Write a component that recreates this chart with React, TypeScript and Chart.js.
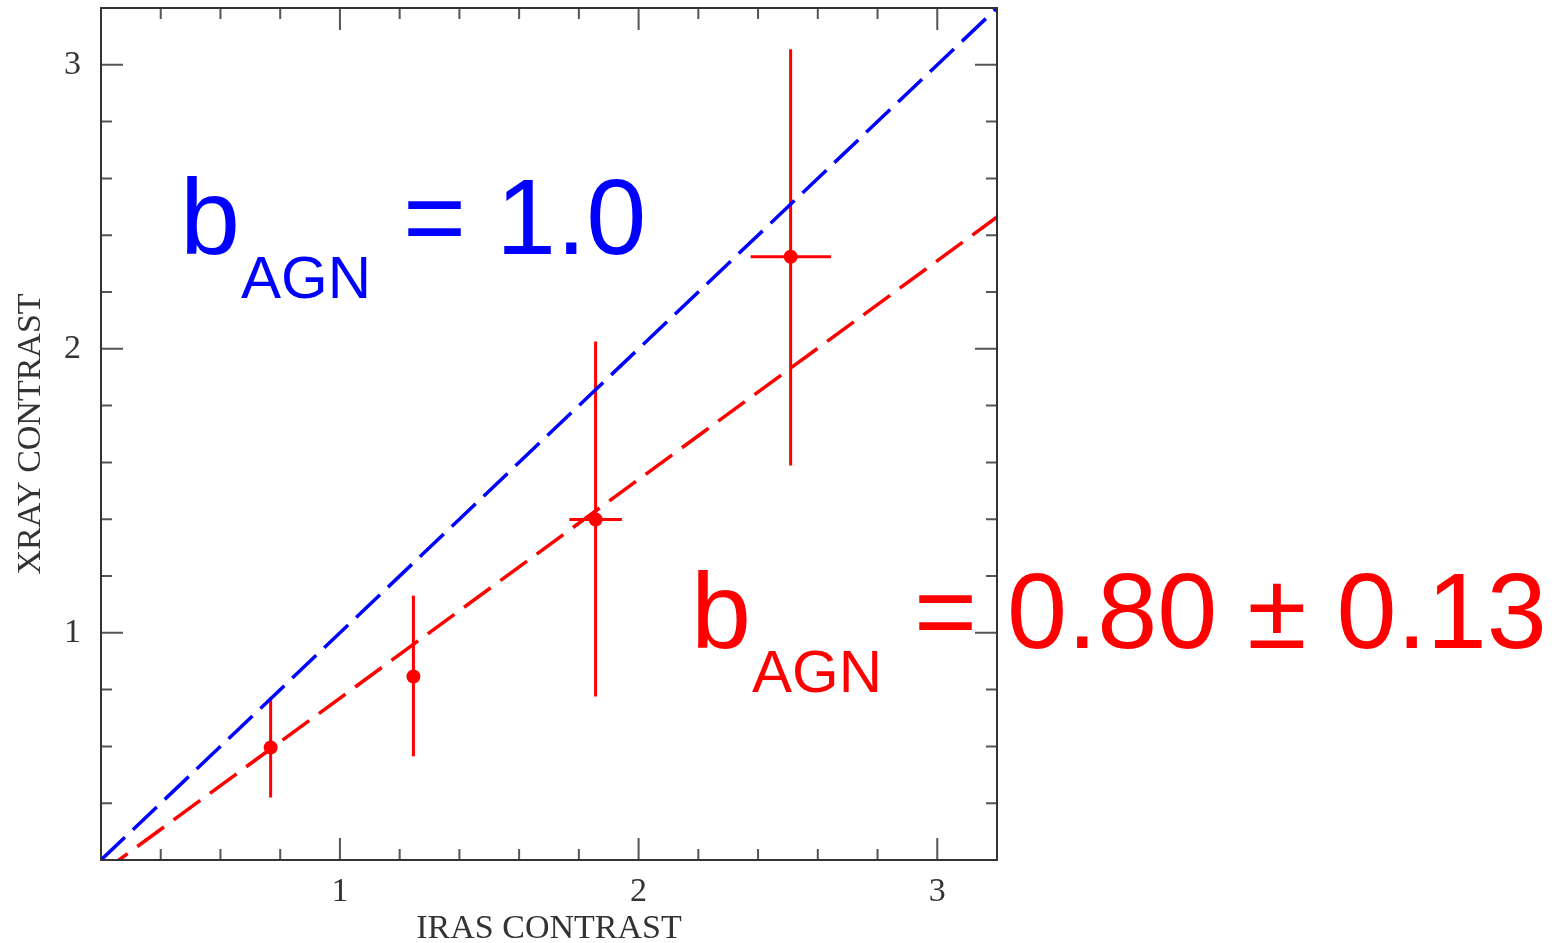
import React, { useEffect, useRef } from "react";
import { Chart, registerables } from "chart.js";

Chart.register(...registerables);

// Measured contrasts for the four bins, with their error-bar extents
const irasContrast = [0.768, 1.246, 1.856, 2.509];
const xrayContrast = [0.596, 0.846, 1.399, 2.324];
const xrayLow = [0.42, 0.565, 0.776, 1.589];
const xrayHigh = [0.772, 1.131, 2.026, 3.055];
const irasLow = [0.768, 1.246, 1.768, 2.375];
const irasHigh = [0.768, 1.246, 1.944, 2.644];

// Axis range and labelled ticks (same on both axes)
const axisMin = 0.2;
const axisMax = 3.2;
const majorTicks = [1, 2, 3];
const minorStep = 0.2;

// Reference relations: unit bias and the fitted one
const lineEnds = [0.2, 3.2];
const unitSlope = 1.0;
const fitSlope = 0.77;

const BLUE = "#0000ff";
const RED = "#ff0000";
const INK = "#333333";

const serif = "'Liberation Serif', 'Times New Roman', serif";
const sans = "'Liberation Sans', Arial, sans-serif";

const errorBarPlugin = {
  id: "errorBars",
  beforeDatasetsDraw(chart: any) {
    const { ctx, scales } = chart;
    const xs = scales.x;
    const ys = scales.y;
    ctx.save();
    ctx.strokeStyle = RED;
    ctx.lineWidth = 3;
    ctx.lineCap = "butt";
    for (let i = 0; i < irasContrast.length; i++) {
      const px = xs.getPixelForValue(irasContrast[i]);
      const py = ys.getPixelForValue(xrayContrast[i]);
      ctx.beginPath();
      ctx.moveTo(px, ys.getPixelForValue(xrayLow[i]));
      ctx.lineTo(px, ys.getPixelForValue(xrayHigh[i]));
      ctx.stroke();
      if (irasHigh[i] > irasLow[i]) {
        ctx.beginPath();
        ctx.moveTo(xs.getPixelForValue(irasLow[i]), py);
        ctx.lineTo(xs.getPixelForValue(irasHigh[i]), py);
        ctx.stroke();
      }
    }
    ctx.restore();
  },
};

const framePlugin = {
  id: "frame",
  afterDatasetsDraw(chart: any) {
    const { ctx, chartArea, scales } = chart;
    const { left, right, top, bottom } = chartArea;
    const xs = scales.x;
    const ys = scales.y;
    ctx.save();
    ctx.strokeStyle = "#555555";
    ctx.lineWidth = 2;
    const steps = Math.round((axisMax - axisMin) / minorStep);
    for (let i = 1; i < steps; i++) {
      const v = axisMin + i * minorStep;
      const major = Math.abs(v - Math.round(v)) < 1e-6;
      const len = major ? 22 : 11;
      const px = xs.getPixelForValue(v);
      const py = ys.getPixelForValue(v);
      ctx.beginPath();
      ctx.moveTo(px, bottom);
      ctx.lineTo(px, bottom - len);
      ctx.moveTo(px, top);
      ctx.lineTo(px, top + len);
      ctx.moveTo(left, py);
      ctx.lineTo(left + len, py);
      ctx.moveTo(right, py);
      ctx.lineTo(right - len, py);
      ctx.stroke();
    }
    ctx.strokeStyle = INK;
    ctx.lineWidth = 2;
    ctx.strokeRect(left, top, right - left, bottom - top);
    ctx.restore();
  },
};

const biasLabelPlugin = {
  id: "biasLabels",
  afterDraw(chart: any) {
    const { ctx } = chart;
    ctx.save();
    ctx.textBaseline = "alphabetic";
    ctx.textAlign = "left";

    const label = (color: string, x: number, y: number, value: string) => {
      ctx.fillStyle = color;
      ctx.font = `108px ${sans}`;
      ctx.fillText("b", x, y);
      ctx.fillText(value, x + 223, y);
      ctx.font = `60px ${sans}`;
      ctx.fillText("AGN", x + 61, y + 44);
    };

    label(BLUE, 180, 254, "= 1.0");
    label(RED, 691, 648, "= 0.80 \u00b1 0.13");
    ctx.restore();
  },
};

export default function App() {
  const canvasRef = useRef<HTMLCanvasElement | null>(null);

  useEffect(() => {
    const canvas = canvasRef.current;
    if (!canvas) return;

    const keepMajor = (scale: any) => {
      scale.ticks = majorTicks.map((v) => ({ value: v }));
    };

    const chart = new Chart(canvas, {
      type: "scatter",
      data: {
        datasets: [
          {
            label: "b = 1.0",
            data: lineEnds.map((x) => ({ x, y: unitSlope * x })),
            showLine: true,
            borderColor: BLUE,
            borderWidth: 3.5,
            borderDash: [33, 11],
            pointRadius: 0,
          },
          {
            label: "fit",
            data: lineEnds.map((x) => ({ x, y: fitSlope * x })),
            showLine: true,
            borderColor: RED,
            borderWidth: 3.5,
            borderDash: [33, 12],
            pointRadius: 0,
          },
          {
            label: "bins",
            data: irasContrast.map((x, i) => ({ x, y: xrayContrast[i] })),
            showLine: false,
            backgroundColor: RED,
            borderColor: RED,
            borderWidth: 0,
            pointRadius: 7,
            pointStyle: "circle",
          },
        ],
      },
      options: {
        responsive: false,
        animation: false,
        events: [],
        layout: { padding: { top: 8, right: 561, left: 0, bottom: 0 } },
        plugins: {
          legend: { display: false },
          tooltip: { enabled: false },
        },
        scales: {
          x: {
            type: "linear",
            min: axisMin,
            max: axisMax,
            afterBuildTicks: keepMajor,
            afterFit: (s: any) => {
              s.height = 83;
              s.paddingLeft = 0;
              s.paddingRight = 0;
            },
            grid: { display: false, drawTicks: false },
            border: { display: false },
            ticks: {
              color: INK,
              font: { family: serif, size: 34 },
              padding: 12,
              maxRotation: 0,
              autoSkip: false,
            },
            title: {
              display: true,
              text: "IRAS CONTRAST",
              color: INK,
              font: { family: serif, size: 34 },
              padding: { top: 0, bottom: -6 },
            },
          },
          y: {
            type: "linear",
            min: axisMin,
            max: axisMax,
            afterBuildTicks: keepMajor,
            afterFit: (s: any) => {
              s.width = 101;
              s.paddingTop = 0;
              s.paddingBottom = 0;
            },
            grid: { display: false, drawTicks: false },
            border: { display: false },
            ticks: {
              color: INK,
              font: { family: serif, size: 34 },
              padding: 20,
              autoSkip: false,
            },
            title: {
              display: true,
              text: "XRAY CONTRAST",
              color: INK,
              font: { family: serif, size: 34 },
              padding: { top: 11, bottom: 0 },
            },
          },
        },
      },
      plugins: [errorBarPlugin, framePlugin, biasLabelPlugin],
    } as any);

    return () => chart.destroy();
  }, []);

  return (
    <div style={{ position: "absolute", left: 0, top: 0, width: 1558, height: 943, background: "#ffffff" }}>
      <canvas ref={canvasRef} width={1558} height={943} style={{ display: "block" }} />
    </div>
  );
}
